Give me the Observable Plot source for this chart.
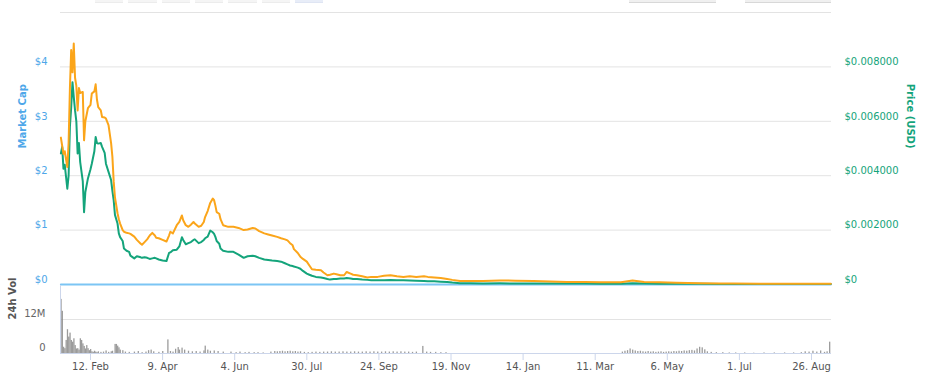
<!DOCTYPE html>
<html>
<head>
<meta charset="utf-8">
<script src="https://cdn.jsdelivr.net/npm/d3@7"></script>
<script src="https://cdn.jsdelivr.net/npm/@observablehq/plot@0.6"></script>
<style>
  body { margin: 0; background: #fff; font-family: "DejaVu Sans", sans-serif; }
  #wrap { position: relative; width: 929px; height: 385px; overflow: hidden; background: #fff; }
  #main, #vol { position: absolute; left: 0; }
  #main { top: 0; }
  #vol { top: 284px; }
  .btn { position: absolute; top: 0; height: 3px; background: #f5f5f5; border-bottom: 1px solid #ececec; box-sizing: border-box; }
  .btn.sel { background: #e8edf8; border-bottom-color: #dfe5f3; }
  .btn.inp { background: #f0f0f0; border-bottom: 1px solid #d8d8d8; }
</style>
</head>
<body>
<div id="wrap">
  <div class="btn" style="left:95px;width:28px"></div>
  <div class="btn" style="left:128px;width:29px"></div>
  <div class="btn" style="left:162px;width:28px"></div>
  <div class="btn" style="left:195px;width:28px"></div>
  <div class="btn" style="left:228px;width:29px"></div>
  <div class="btn" style="left:262px;width:28px"></div>
  <div class="btn sel" style="left:295px;width:28px"></div>
  <div class="btn inp" style="left:629px;width:87px"></div>
  <div class="btn inp" style="left:745px;width:86px"></div>
  <div id="main"></div>
  <div id="vol"></div>
</div>
<script>
// ---------- DATA ----------
// Dates of the price samples
const dates = [
  "2018-01-20","2018-01-21","2018-01-22","2018-01-23","2018-01-25","2018-01-26","2018-01-27","2018-01-28","2018-01-29","2018-01-30","2018-01-31",
  "2018-02-01","2018-02-02","2018-02-03","2018-02-04","2018-02-06","2018-02-07","2018-02-08","2018-02-10","2018-02-12","2018-02-13","2018-02-15","2018-02-16","2018-02-17","2018-02-18","2018-02-20","2018-02-21","2018-02-23","2018-02-24","2018-02-26","2018-02-28",
  "2018-03-01","2018-03-02","2018-03-03","2018-03-05","2018-03-06","2018-03-07","2018-03-09","2018-03-10","2018-03-12","2018-03-14","2018-03-15","2018-03-18","2018-03-20","2018-03-23","2018-03-24","2018-03-26","2018-03-28","2018-03-30",
  "2018-04-01","2018-04-03","2018-04-04","2018-04-06","2018-04-09","2018-04-12","2018-04-14","2018-04-15","2018-04-17","2018-04-20","2018-04-22","2018-04-24","2018-04-25","2018-04-27","2018-04-29",
  "2018-05-01","2018-05-03","2018-05-04","2018-05-07","2018-05-09","2018-05-11","2018-05-12","2018-05-14","2018-05-16","2018-05-18","2018-05-19","2018-05-20","2018-05-21","2018-05-23","2018-05-24","2018-05-26","2018-05-30",
  "2018-06-03","2018-06-07","2018-06-11","2018-06-14","2018-06-18","2018-06-20","2018-06-23","2018-06-27","2018-06-30",
  "2018-07-03","2018-07-07","2018-07-10","2018-07-13","2018-07-15","2018-07-17","2018-07-19","2018-07-20","2018-07-23","2018-07-25","2018-07-27","2018-07-30",
  "2018-08-01","2018-08-03","2018-08-06","2018-08-10","2018-08-12","2018-08-15","2018-08-17","2018-08-20","2018-08-22","2018-08-25","2018-08-28","2018-08-30",
  "2018-09-02","2018-09-04","2018-09-07","2018-09-11","2018-09-15","2018-09-18","2018-09-23","2018-09-28",
  "2018-10-03","2018-10-08","2018-10-13","2018-10-18","2018-10-23","2018-10-29",
  "2018-11-01","2018-11-06","2018-11-11","2018-11-16","2018-11-20","2018-11-26",
  "2018-12-04","2018-12-14","2018-12-27",
  "2019-01-08","2019-01-22","2019-02-04","2019-02-17","2019-03-03","2019-03-15","2019-03-31","2019-04-09","2019-04-18","2019-04-30","2019-05-13","2019-05-31","2019-06-16","2019-06-26","2019-07-17","2019-08-09","2019-08-25","2019-09-10"
];
// Price (USD), right axis
const priceUsd = [
  0.00482,0.00506,0.00426,0.0044,0.00352,0.004,0.0058,0.0065,0.00744,0.0069,0.0064,
  0.006,0.00482,0.0052,0.0045,0.0038,0.00266,0.0034,0.0039,0.00424,0.00444,0.0049,0.00542,0.0052,0.00518,0.0052,0.00506,0.00484,0.00444,0.00414,0.00384,
  0.00344,0.0031,0.00256,0.00224,0.00188,0.00174,0.0016,0.00132,0.00124,0.0012,0.00106,0.00096,0.00104,0.001,0.00098,0.001,0.00098,0.00094,
  0.00096,0.00098,0.00096,0.00092,0.00088,0.00086,0.00116,0.00118,0.00126,0.00128,0.0014,0.00174,0.00164,0.00148,0.00152,
  0.00156,0.00164,0.00166,0.00152,0.00156,0.00164,0.0017,0.00176,0.00198,0.00192,0.00186,0.00175,0.0016,0.0015,0.00132,0.00124,0.0012,
  0.0012,0.0011,0.00098,0.00104,0.00106,0.00104,0.00098,0.00092,0.0009,
  0.00088,0.00086,0.00084,0.00078,0.00074,0.0007,0.00068,0.00066,0.00062,0.00058,0.0005,0.0004,
  0.00036,0.00032,0.00028,0.00026,0.00024,0.0002,0.00018,0.0002,0.0002,0.00022,0.00022,0.00024,
  0.00022,0.0002,0.0002,0.00018,0.00017,0.00016,0.00016,0.00016,
  0.00017,0.00016,0.00016,0.00015,0.00014,0.000132,
  0.000124,0.000116,0.000104,0.00009,0.00007,0.000048,
  0.000044,0.00004,0.000042,
  0.00004,0.00004,0.000038,0.000036,0.000034,0.000032,0.000032,0.00005,0.000036,0.00003,0.000026,0.000024,0.000022,0.000022,0.00002,0.00002,0.00002,0.00002
];
// Price (BTC), hidden axis, expressed in left-axis units
const priceBtcScaled = [
  2.70,2.55,2.40,2.45,2.16,2.60,3.60,4.31,3.90,4.43,3.80,
  3.65,3.20,3.61,3.52,3.54,2.65,3.00,3.24,3.30,3.51,3.55,3.68,3.40,3.26,3.20,3.08,3.07,3.05,2.93,2.60,
  2.35,1.90,1.60,1.31,1.20,1.12,1.00,0.97,0.95,0.94,0.93,0.88,0.82,0.75,0.73,0.78,0.83,0.90,
  0.95,0.90,0.86,0.85,0.82,0.79,0.90,0.97,0.94,1.09,1.15,1.27,1.18,1.09,1.06,
  1.10,1.15,1.12,1.06,1.08,1.15,1.24,1.35,1.50,1.58,1.55,1.45,1.33,1.30,1.20,1.09,1.06,
  1.06,1.04,1.00,1.01,1.04,1.03,0.98,0.94,0.92,
  0.90,0.875,0.85,0.83,0.81,0.76,0.72,0.65,0.58,0.51,0.47,0.42,
  0.35,0.28,0.27,0.26,0.22,0.17,0.18,0.20,0.19,0.17,0.17,0.23,
  0.20,0.18,0.17,0.15,0.13,0.14,0.14,0.16,
  0.17,0.15,0.14,0.15,0.14,0.15,
  0.14,0.13,0.12,0.10,0.085,0.066,
  0.065,0.066,0.075,
  0.07,0.066,0.055,0.048,0.045,0.042,0.042,0.075,0.048,0.04,0.03,0.025,0.02,0.018,0.016,0.015,0.015,0.016
];
// Market cap (left axis) - flat at $0
const capDates = ["2018-01-20","2019-09-10"];
const capValues = [0, 0];

// 24h volume (millions USD)
const volDates = [
  "2018-01-20","2018-01-21","2018-01-22","2018-01-23","2018-01-24","2018-01-25","2018-01-26","2018-01-27","2018-01-28","2018-01-29","2018-01-30","2018-01-31",
  "2018-02-01","2018-02-02","2018-02-03","2018-02-04","2018-02-05","2018-02-06","2018-02-07","2018-02-08","2018-02-09","2018-02-10","2018-02-11","2018-02-12","2018-02-13","2018-02-14","2018-02-15","2018-02-16","2018-02-17","2018-02-18","2018-02-20","2018-02-22","2018-02-24","2018-02-26","2018-02-28",
  "2018-03-01","2018-03-03","2018-03-04","2018-03-05","2018-03-06","2018-03-07","2018-03-09","2018-03-11","2018-03-14","2018-03-18","2018-03-21","2018-03-24","2018-03-27","2018-03-29","2018-03-31",
  "2018-04-02","2018-04-06","2018-04-09","2018-04-13","2018-04-15","2018-04-17","2018-04-19","2018-04-21","2018-04-22","2018-04-24","2018-04-26","2018-04-29",
  "2018-05-02","2018-05-05","2018-05-08","2018-05-11","2018-05-12","2018-05-14","2018-05-16","2018-05-19","2018-05-22","2018-05-26",
  "2018-06-01","2018-06-05","2018-06-08","2018-06-12","2018-06-15","2018-06-19","2018-06-22","2018-06-26",
  "2018-07-02","2018-07-05","2018-07-07","2018-07-09","2018-07-11","2018-07-13","2018-07-15","2018-07-17","2018-07-19","2018-07-21","2018-07-23","2018-07-25","2018-07-28","2018-07-31",
  "2018-08-03","2018-08-06","2018-08-09","2018-08-12","2018-08-15","2018-08-18","2018-08-21","2018-08-24","2018-08-27","2018-08-30",
  "2018-09-02","2018-09-05","2018-09-08","2018-09-11","2018-09-14","2018-09-17","2018-09-20","2018-09-23","2018-09-26","2018-09-29",
  "2018-10-02","2018-10-05","2018-10-08","2018-10-11","2018-10-14","2018-10-17","2018-10-20","2018-10-23","2018-10-28","2018-10-31",
  "2018-11-03","2018-11-07","2018-11-11","2018-11-15",
  "2019-04-01","2019-04-03","2019-04-05","2019-04-07","2019-04-09","2019-04-11","2019-04-13","2019-04-15","2019-04-17","2019-04-19","2019-04-21","2019-04-23","2019-04-25","2019-04-27","2019-04-29",
  "2019-05-01","2019-05-03","2019-05-05","2019-05-07","2019-05-09","2019-05-11","2019-05-13","2019-05-15","2019-05-17","2019-05-19","2019-05-21","2019-05-23","2019-05-25","2019-05-27","2019-05-29","2019-05-31",
  "2019-06-02","2019-06-04","2019-06-06","2019-06-09","2019-06-13","2019-06-18","2019-06-23","2019-06-28",
  "2019-07-05","2019-07-12","2019-07-20","2019-07-28",
  "2019-08-05","2019-08-12","2019-08-18","2019-08-21","2019-08-24","2019-08-27","2019-08-30",
  "2019-09-02","2019-09-05","2019-09-07","2019-09-09"
];
const volValues = [
  19.1,14.9,2.2,1.7,4.6,8.4,5.8,7.2,4.6,4.0,5.2,2.8,
  1.6,1.7,1.2,5.2,4.6,3.4,2.5,1.6,2.8,1.7,1.0,1.4,0.6,0.4,0.8,0.5,0.3,0.6,0.4,0.5,0.9,0.4,0.6,
  0.8,3.2,3.2,2.6,2.0,1.2,1.0,0.5,0.4,0.5,0.7,0.3,0.5,1.0,1.2,
  0.6,0.4,0.7,4.8,0.7,0.5,1.5,2.1,1.2,1.9,1.2,0.8,
  0.6,0.7,0.5,0.9,2.6,1.2,0.8,0.9,0.7,0.5,
  0.5,0.3,0.5,0.3,0.4,0.3,0.3,0.2,
  0.5,0.7,0.6,0.7,0.8,0.6,0.7,0.8,0.6,0.7,0.5,0.6,0.4,0.3,
  0.4,0.5,0.4,0.5,0.5,0.6,0.5,0.5,0.6,0.5,
  0.5,0.6,0.5,0.5,0.6,0.5,0.6,0.5,0.5,0.6,
  0.5,0.6,0.5,0.6,0.5,0.5,0.4,0.5,2.5,0.5,
  0.4,0.4,0.3,0.3,
  0.5,0.8,1.0,1.6,1.2,0.9,0.7,0.8,0.6,0.5,0.7,0.5,0.6,0.4,0.5,
  0.6,0.4,0.5,0.6,0.5,0.7,0.6,0.8,0.7,0.9,0.8,1.0,1.1,0.9,1.6,2.2,
  2.0,1.3,0.6,0.4,0.3,0.3,0.2,0.2,
  0.2,0.1,0.2,0.2,
  0.2,0.2,0.3,0.6,0.5,0.8,0.5,
  0.9,0.4,0.6,4.0
];

// Axis ticks
const capTicks = [0, 1, 2, 3, 4];
const capGrid = [1, 2, 3, 4, 5];
const priceTicks = [0, 0.002, 0.004, 0.006, 0.008];
const volTicks = [0, 12];
const xTickDates = ["2018-02-12","2018-04-09","2018-06-04","2018-07-30","2018-09-24","2018-11-19","2019-01-14","2019-03-11","2019-05-06","2019-07-01","2019-08-26"];

// ---------- CHART ----------
const BLUE_LINE = "#7cc5f4", BLUE_TEXT = "#4ea7e9", GREEN = "#14a47b", ORANGE = "#fba51a";
const USD_PER_CAP = 0.002; // $0.002 on the right axis aligns with $1 on the left
const parse = s => new Date(s + "T00:00:00Z");
const xDomain = [new Date("2018-01-19T16:48:00Z"), new Date("2019-09-10T12:43:00Z")];

const rows = dates.map((d, i) => ({date: parse(d), usd: priceUsd[i], btc: priceBtcScaled[i]}));
const capRows = capDates.map((d, i) => ({date: parse(d), cap: capValues[i]}));
const volRows = volDates.map((d, i) => ({date: parse(d), vol: volValues[i]}));

const font = {background: "transparent", fontFamily: "'DejaVu Sans', sans-serif", fontSize: "10px", overflow: "visible"};

const main = Plot.plot({
  width: 929, height: 290,
  marginLeft: 60, marginRight: 98, marginTop: 12, marginBottom: 6,
  style: font,
  x: {type: "utc", domain: xDomain, axis: null},
  y: {domain: [0, 5], axis: null},
  marks: [
    Plot.gridY(capGrid, {stroke: "#e3e3e3", strokeOpacity: 1, strokeWidth: 1}),
    Plot.axisY(capTicks, {anchor: "left", tickSize: 0, tickPadding: 13, dy: -5, fill: BLUE_TEXT, tickFormat: d => "$" + d, label: null}),
    Plot.axisY(priceTicks.map(p => p / USD_PER_CAP), {anchor: "right", tickSize: 0, tickPadding: 13, dy: -5, fill: GREEN,
      tickFormat: v => v === 0 ? "$0" : "$" + (v * USD_PER_CAP).toFixed(6), label: null}),
    Plot.line(capRows, {x: "date", y: "cap", stroke: BLUE_LINE, strokeWidth: 2}),
    Plot.line(rows, {x: "date", y: d => d.usd / USD_PER_CAP, stroke: GREEN, strokeWidth: 2, strokeLinejoin: "round"}),
    Plot.line(rows, {x: "date", y: "btc", stroke: ORANGE, strokeWidth: 2, strokeLinejoin: "round"}),
    Plot.text(["Market Cap"], {frameAnchor: "left", dx: -38, rotate: -90, fill: BLUE_TEXT, fontWeight: "bold", fontSize: 10}),
    Plot.text(["Price (USD)"], {frameAnchor: "right", dx: 79, rotate: 90, fill: GREEN, fontWeight: "bold", fontSize: 10})
  ]
});
document.getElementById("main").append(main);

const vol = Plot.plot({
  width: 929, height: 101,
  marginLeft: 60, marginRight: 98, marginTop: 1, marginBottom: 32,
  style: font,
  x: {type: "utc", domain: xDomain, axis: null},
  y: {domain: [0, 24], axis: null},
  marks: [
    Plot.gridY([12], {stroke: "#e3e3e3", strokeOpacity: 1}),
    Plot.rectY(volRows, {x1: "date", x2: d => d3.utcDay.offset(d.date, 1), y: "vol", fill: "#8a8a8a", fillOpacity: 0.85}),
    Plot.ruleY([0], {stroke: "#ccd6eb"}),
    Plot.ruleX([xDomain[0]], {stroke: "#ccd6eb"}),
    Plot.axisY(volTicks, {anchor: "left", tickSize: 0, tickPadding: 15, dy: -6, fill: "#666", tickFormat: d => d === 0 ? "0" : d + "M", label: null}),
    Plot.axisX(xTickDates.map(parse), {anchor: "bottom", tickSize: 7, tickPadding: 2, stroke: "#ccd6eb", fill: "#555",
      tickFormat: d3.utcFormat("%-d. %b"), label: null}),
    Plot.text(["24h Vol"], {frameAnchor: "left", dx: -48, rotate: -90, fill: "#555", fontWeight: "bold", fontSize: 10})
  ]
});
document.getElementById("vol").append(vol);
</script>
</body>
</html>
